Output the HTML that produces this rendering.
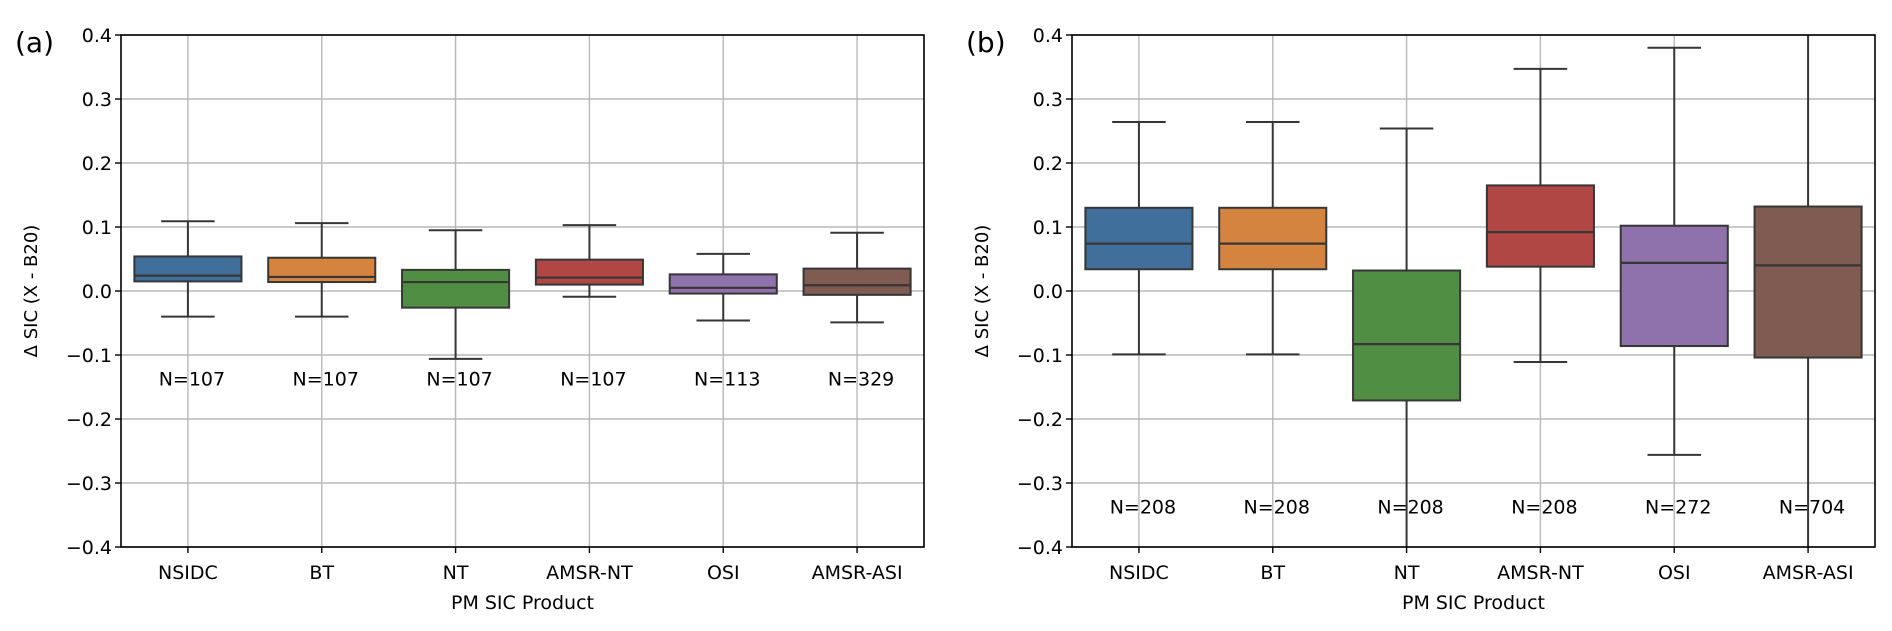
<!DOCTYPE html>
<html><head><meta charset="utf-8"><style>
body{margin:0;background:#fff;}
svg text{font-family:"DejaVu Sans","Liberation Sans",sans-serif;fill:#000;}
</style></head><body>
<svg id="chart" width="1892" height="626" xmlns="http://www.w3.org/2000/svg"></svg>
<script>
const categories = ["NSIDC","BT","NT","AMSR-NT","OSI","AMSR-ASI"];
const colors = ["#416f9b","#d4843e","#4f8e43","#b04744","#8f72ab","#7f5b51"];
const yTicks = [0.4,0.3,0.2,0.1,0.0,-0.1,-0.2,-0.3,-0.4];
// panel a: [whisLo, q1, median, q3, whisHi]
const aLo  = [-0.040,-0.040,-0.106,-0.009,-0.046,-0.049];
const aQ1  = [0.015,0.014,-0.026,0.010,-0.004,-0.006];
const aMed = [0.024,0.022,0.014,0.021,0.005,0.009];
const aQ3  = [0.054,0.052,0.033,0.049,0.026,0.035];
const aHi  = [0.109,0.106,0.095,0.103,0.058,0.091];
const aN   = ["N=107","N=107","N=107","N=107","N=113","N=329"];
const bLo  = [-0.099,-0.099,-0.45,-0.111,-0.256,-0.45];
const bQ1  = [0.034,0.034,-0.171,0.038,-0.086,-0.104];
const bMed = [0.074,0.074,-0.083,0.092,0.044,0.040];
const bQ3  = [0.130,0.130,0.032,0.165,0.102,0.132];
const bHi  = [0.264,0.264,0.254,0.347,0.380,0.45];
const bN   = ["N=208","N=208","N=208","N=208","N=272","N=704"];

const NS="http://www.w3.org/2000/svg";
const svg=document.getElementById('chart');
function el(tag,attrs,parent){const e=document.createElementNS(NS,tag);for(const k in attrs)e.setAttribute(k,attrs[k]);(parent||svg).appendChild(e);return e;}

function panel(id,left,right,lo,q1,med,q3,hi,nl,nVal){
  const top=35,bottom=547,ymin=-0.4,ymax=0.4;
  const g=el('g',{});
  
  
  const y=v=>top+(ymax-v)/(ymax-ymin)*(bottom-top);
  const step=(right-left)/categories.length;
  const x=i=>left+step*(i+0.5);
  const bw=step*0.8;
  const clip=el('clipPath',{id:'clip'+id},g);
  el('rect',{x:left,y:top,width:right-left,height:bottom-top},clip);
  yTicks.forEach(t=>{
    const gl=el('line',{x1:left,x2:right,y1:y(t),y2:y(t),stroke:'#b8b8b8','stroke-width':1.4},g);
    
    
    el('line',{x1:left-6,x2:left,y1:y(t),y2:y(t),stroke:'#000','stroke-width':1.4},g);
    const tl=el('text',{x:left-9,y:y(t)+7,'text-anchor':'end','font-size':19},g);
    tl.textContent=(t<0?'\u2212':'')+Math.abs(t).toFixed(1);
    
    
  });
  categories.forEach((c,i)=>{
    el('line',{x1:x(i),x2:x(i),y1:top,y2:bottom,stroke:'#b8b8b8','stroke-width':1.4},g);
    el('line',{x1:x(i),x2:x(i),y1:bottom,y2:bottom+6,stroke:'#000','stroke-width':1.4},g);
    const tl=el('text',{x:x(i),y:bottom+32,'text-anchor':'middle','font-size':19},g);
    tl.textContent=c;
    
    
  });
  const bg=el('g',{'clip-path':'url(#clip'+id+')'},g);
  categories.forEach((c,i)=>{
    const bx=el('g',{},bg);
    
    
    const L='#363636';
    el('line',{x1:x(i),x2:x(i),y1:y(hi[i]),y2:y(q3[i]),stroke:L,'stroke-width':2},bx);
    el('line',{x1:x(i),x2:x(i),y1:y(q1[i]),y2:y(lo[i]),stroke:L,'stroke-width':2},bx);
    el('line',{x1:x(i)-bw/4,x2:x(i)+bw/4,y1:y(hi[i]),y2:y(hi[i]),stroke:L,'stroke-width':2},bx);
    el('line',{x1:x(i)-bw/4,x2:x(i)+bw/4,y1:y(lo[i]),y2:y(lo[i]),stroke:L,'stroke-width':2},bx);
    el('rect',{x:x(i)-bw/2,y:y(q3[i]),width:bw,height:y(q1[i])-y(q3[i]),fill:colors[i],stroke:L,'stroke-width':2},bx);
    el('line',{x1:x(i)-bw/2,x2:x(i)+bw/2,y1:y(med[i]),y2:y(med[i]),stroke:L,'stroke-width':2.2},bx);
  });
  categories.forEach((c,i)=>{
    const t=el('text',{x:x(i)+4,y:y(nVal)+7,'text-anchor':'middle','font-size':19},g);
    t.textContent=nl[i];
    
    
  });
  el('rect',{x:left,y:top,width:right-left,height:bottom-top,fill:'none',stroke:'#000','stroke-width':1.6},g);
  const yl=el('text',{x:0,y:0,'text-anchor':'middle','font-size':18,transform:`translate(${left-84},${(top+bottom)/2}) rotate(-90)`},g);
  yl.textContent='\u0394 SIC (X - B20)';
  
  
  const xl=el('text',{x:(left+right)/2,y:609,'text-anchor':'middle','font-size':19},g);
  xl.textContent='PM SIC Product';
  
  
  const pl=el('text',{x:left-106,y:top+17,'font-size':28},g);
  pl.textContent='('+id+')';
  
  
}
panel('a',121,924,aLo,aQ1,aMed,aQ3,aHi,aN,-0.137);
panel('b',1072,1875,bLo,bQ1,bMed,bQ3,bHi,bN,-0.337);
</script>
</body></html>
